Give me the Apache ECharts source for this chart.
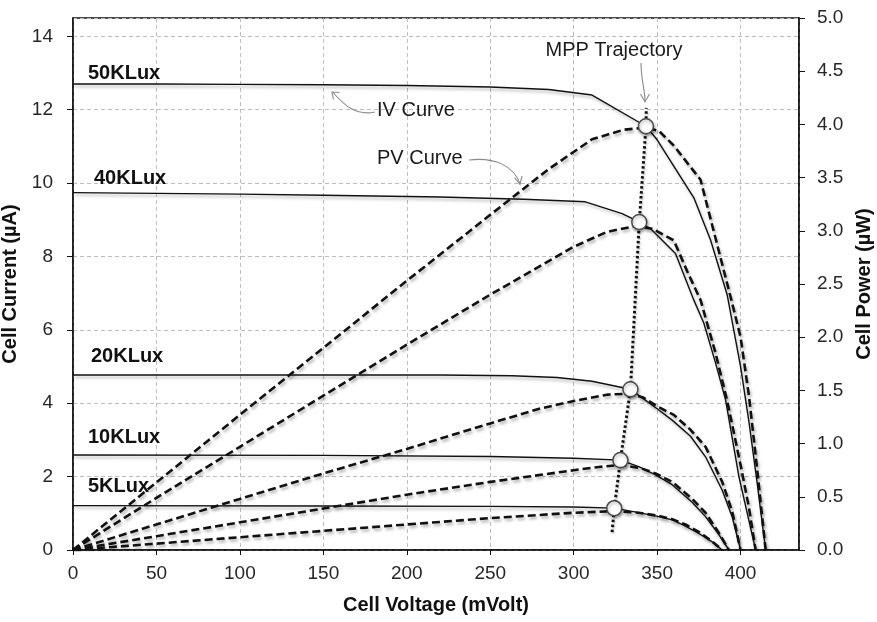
<!DOCTYPE html>
<html><head><meta charset="utf-8">
<script src="https://cdn.jsdelivr.net/npm/echarts@6/dist/echarts.min.js"></script>
<style>html,body{margin:0;padding:0;background:#fff}#c{width:877px;height:622px}</style>
</head><body><div id="c"></div>
<script>
// ---------- DATA (Voltage mV, Current uA) ----------
const iv50K = [[0,12.70],[50,12.70],[100,12.69],[150,12.68],[200,12.66],[250,12.62],[285,12.55],[311,12.40],[343.3,11.55],[350,11.18],[372,9.60],[382,8.45],[392,6.95],[400,5.00],[405,3.50],[410,1.80],[415,0]];
const iv40K = [[0,9.74],[100,9.70],[150,9.67],[220,9.62],[270,9.56],[307,9.49],[329,9.17],[339.3,8.94],[346,8.76],[361,8.08],[372,6.81],[378,6.18],[385,5.10],[391,4.09],[399,2.00],[404,1.00],[409,0]];
const iv20K = [[0,4.77],[100,4.77],[220,4.77],[263,4.75],[290,4.70],[311,4.60],[334,4.38],[340,4.18],[350,3.85],[359,3.54],[370,3.10],[379,2.54],[389,1.63],[395,0.90],[400,0]];
const iv10K = [[0,2.59],[150,2.58],[250,2.55],[300,2.50],[328,2.45],[339,2.27],[349,2.05],[359,1.78],[371,1.30],[379,0.91],[387,0.42],[393,0]];
const iv5K  = [[0,1.21],[150,1.20],[250,1.19],[300,1.17],[324.3,1.14],[339,1.02],[351,0.91],[359,0.82],[367,0.65],[375,0.45],[383,0.22],[389,0]];

// ---------- DATA (Voltage mV, Power uW) ----------
const pv50K = [[0,0],[50,0.635],[100,1.27],[150,1.90],[200,2.53],[250,3.15],[285,3.58],[311,3.86],[330,3.95],[343,3.97],[351,3.94],[360,3.80],[370,3.60],[376,3.48],[385,2.93],[394,2.38],[400,2.00],[405,1.45],[410,0.75],[415,0]];
const pv40K = [[0,0],[50,0.49],[100,0.97],[150,1.45],[200,1.93],[250,2.40],[300,2.85],[320,2.99],[337,3.045],[347,3.02],[360,2.91],[368,2.62],[376,2.35],[385,1.85],[392,1.40],[400,0.80],[405,0.40],[409,0]];
const pv20K = [[0,0],[50,0.24],[100,0.48],[150,0.72],[200,0.95],[250,1.19],[280,1.33],[300,1.40],[320,1.46],[334,1.47],[342,1.43],[350,1.35],[360,1.27],[370,1.13],[379,0.97],[389,0.64],[395,0.36],[400,0]];
const pv10K = [[0,0],[50,0.13],[100,0.26],[150,0.39],[200,0.52],[250,0.64],[300,0.75],[315,0.78],[328,0.80],[340,0.77],[349,0.72],[359,0.64],[371,0.48],[379,0.35],[387,0.16],[393,0]];
const pv5K  = [[0,0],[50,0.06],[100,0.12],[150,0.18],[200,0.24],[250,0.30],[300,0.35],[324,0.365],[339,0.35],[351,0.32],[359,0.29],[367,0.24],[375,0.17],[383,0.08],[389,0]];

// MPP trajectory (Voltage mV, Current uA) and MPP points
const mppTrajectory = [[323,0.49],[324.3,1.14],[328,2.45],[334,4.38],[339.3,8.94],[343.3,11.55],[343.5,12.05]];
const mppPoints = [[324.3,1.14],[328,2.45],[334,4.38],[339.3,8.94],[343.3,11.55]];

const luxLabels = ['50KLux','40KLux','20KLux','10KLux','5KLux'];

// ---------- CHART ----------
const FONT = '"Liberation Sans", Arial, Helvetica, sans-serif';
const chart = echarts.init(document.getElementById('c'), null, {renderer:'canvas'});
const lineShadow = {shadowColor:'rgba(0,0,0,0.30)', shadowBlur:3, shadowOffsetX:1.5, shadowOffsetY:2.5};
const txtShadow = {shadowColor:'rgba(0,0,0,0.35)', shadowBlur:3, shadowOffsetX:1.5, shadowOffsetY:2};

function ivSeries(name, data){
  return {name:name+' IV', type:'line', data, yAxisIndex:0, symbol:'none', smooth:false,
    lineStyle:Object.assign({color:'#111', width:1.4}, lineShadow), z:3, silent:true};
}
function pvSeries(name, data){
  return {name:name+' PV', type:'line', data, yAxisIndex:1, symbol:'none', smooth:false,
    lineStyle:Object.assign({color:'#111', width:2.6, type:[8,4]}, lineShadow), z:4, silent:true};
}

const ivAll = [iv50K, iv40K, iv20K, iv10K, iv5K];
const pvAll = [pv50K, pv40K, pv20K, pv10K, pv5K];
const series = [];
luxLabels.forEach((n,i)=>{ series.push(ivSeries(n, ivAll[i])); });
luxLabels.forEach((n,i)=>{ series.push(pvSeries(n, pvAll[i])); });
series.push({name:'MPP Trajectory', type:'line', data:mppTrajectory, yAxisIndex:0, symbol:'none',
  lineStyle:{color:'#111', width:3, type:[2.5,2.5], shadowColor:'rgba(0,0,0,0.25)', shadowBlur:2, shadowOffsetX:1, shadowOffsetY:1.5}, z:5, silent:true});
series.push({name:'MPP', type:'scatter', data:mppPoints, yAxisIndex:0, symbol:'circle', symbolSize:15,
  itemStyle:{color:'#ffffff', opacity:1, borderColor:'#4a4a4a', borderWidth:1.5, shadowColor:'rgba(0,0,0,0.3)', shadowBlur:3, shadowOffsetX:1, shadowOffsetY:2}, z:6, silent:true});

const axisLabelStyle = {fontSize:19, color:'#262626', fontFamily:FONT};
const nameStyle = {fontSize:20, fontWeight:'bold', color:'#111', fontFamily:FONT};

function txt(x, y, text, align){
  return {type:'text', x, y, z:100, silent:true,
    style:Object.assign({text, fill:'#1a1a1a', font:'20px '+FONT, textAlign:align||'left', textVerticalAlign:'middle'}, txtShadow)};
}
function boldTxt(x,y,text){
  return {type:'text', x, y, z:100, silent:true,
    style:Object.assign({text, fill:'#111', font:'bold 20px '+FONT, textAlign:'left', textVerticalAlign:'middle'}, txtShadow)};
}
const arrowStyle = {stroke:'#8a8a8a', lineWidth:1.1, fill:null};

const graphics = [
  boldTxt(88, 73, luxLabels[0]),
  boldTxt(94, 178, luxLabels[1]),
  boldTxt(91, 356, luxLabels[2]),
  boldTxt(88, 437, luxLabels[3]),
  boldTxt(88, 486, luxLabels[4]),
  txt(614, 50, 'MPP Trajectory', 'center'),
  txt(377, 110, 'IV Curve'),
  txt(377, 158, 'PV Curve'),
  // MPP arrow
  {type:'bezierCurve', z:100, silent:true, shape:{x1:641,y1:63,x2:645,y2:101,cpx1:641,cpy1:80,cpx2:645,cpy2:90}, style:arrowStyle},
  {type:'polyline', z:100, silent:true, shape:{points:[[640.5,94],[645,102],[649.5,94]]}, style:arrowStyle},
  // IV arrow
  {type:'bezierCurve', z:100, silent:true, shape:{x1:375,y1:112,x2:333,y2:92.5,cpx1:356,cpy1:116,cpx2:345,cpy2:106}, style:arrowStyle},
  {type:'polyline', z:100, silent:true, shape:{points:[[333.5,99.5],[332,92],[339.5,92.5]]}, style:arrowStyle},
  // PV arrow
  {type:'bezierCurve', z:100, silent:true, shape:{x1:469,y1:160,x2:520,y2:184,cpx1:495,cpy1:157,cpx2:514,cpy2:166}, style:arrowStyle},
  {type:'polyline', z:100, silent:true, shape:{points:[[514.5,177.5],[520,184.5],[522,176]]}, style:arrowStyle}
];

chart.setOption({
  animation:false,
  backgroundColor:'#fff',
  grid:{left:73, right:78, top:18, bottom:72, show:true, borderColor:'#111', borderWidth:1.5, containLabel:false, outerBoundsMode:'none'},
  xAxis:{type:'value', min:0, max:435, interval:50,
    axisLine:{show:true, onZero:false, lineStyle:{color:'#111', width:1.5}},
    axisTick:{show:true, length:5, lineStyle:{color:'#111'}},
    axisLabel:Object.assign({margin:14, showMaxLabel:false}, axisLabelStyle),
    splitLine:{show:true, lineStyle:{color:'#bdbdbd', type:[4,3], width:1}},
    name:'Cell Voltage (mVolt)', nameLocation:'middle', nameGap:45, nameTextStyle:nameStyle},
  yAxis:[
    {type:'value', position:'left', min:0, max:14.5, interval:2,
      axisLine:{show:true, onZero:false, lineStyle:{color:'#111', width:1.5}},
      axisTick:{show:true, length:6, lineStyle:{color:'#111'}},
      axisLabel:Object.assign({margin:20, showMaxLabel:false}, axisLabelStyle),
      splitLine:{show:true, lineStyle:{color:'#bdbdbd', type:[4,3], width:1}},
      name:'Cell Current (µA)', nameLocation:'middle', nameGap:40, nameRotate:90, nameTextStyle:nameStyle},
    {type:'value', position:'right', min:0, max:5, interval:0.5,
      axisLine:{show:true, onZero:false, lineStyle:{color:'#111', width:1.5}},
      axisTick:{show:true, length:6, lineStyle:{color:'#111'}},
      axisLabel:Object.assign({margin:18, formatter:v=>v.toFixed(1)}, axisLabelStyle),
      splitLine:{show:false},
      name:'Cell Power (µW)', nameLocation:'middle', nameGap:54, nameRotate:90, nameTextStyle:nameStyle}
  ],
  series,
  graphic:graphics
});
</script></body></html>
